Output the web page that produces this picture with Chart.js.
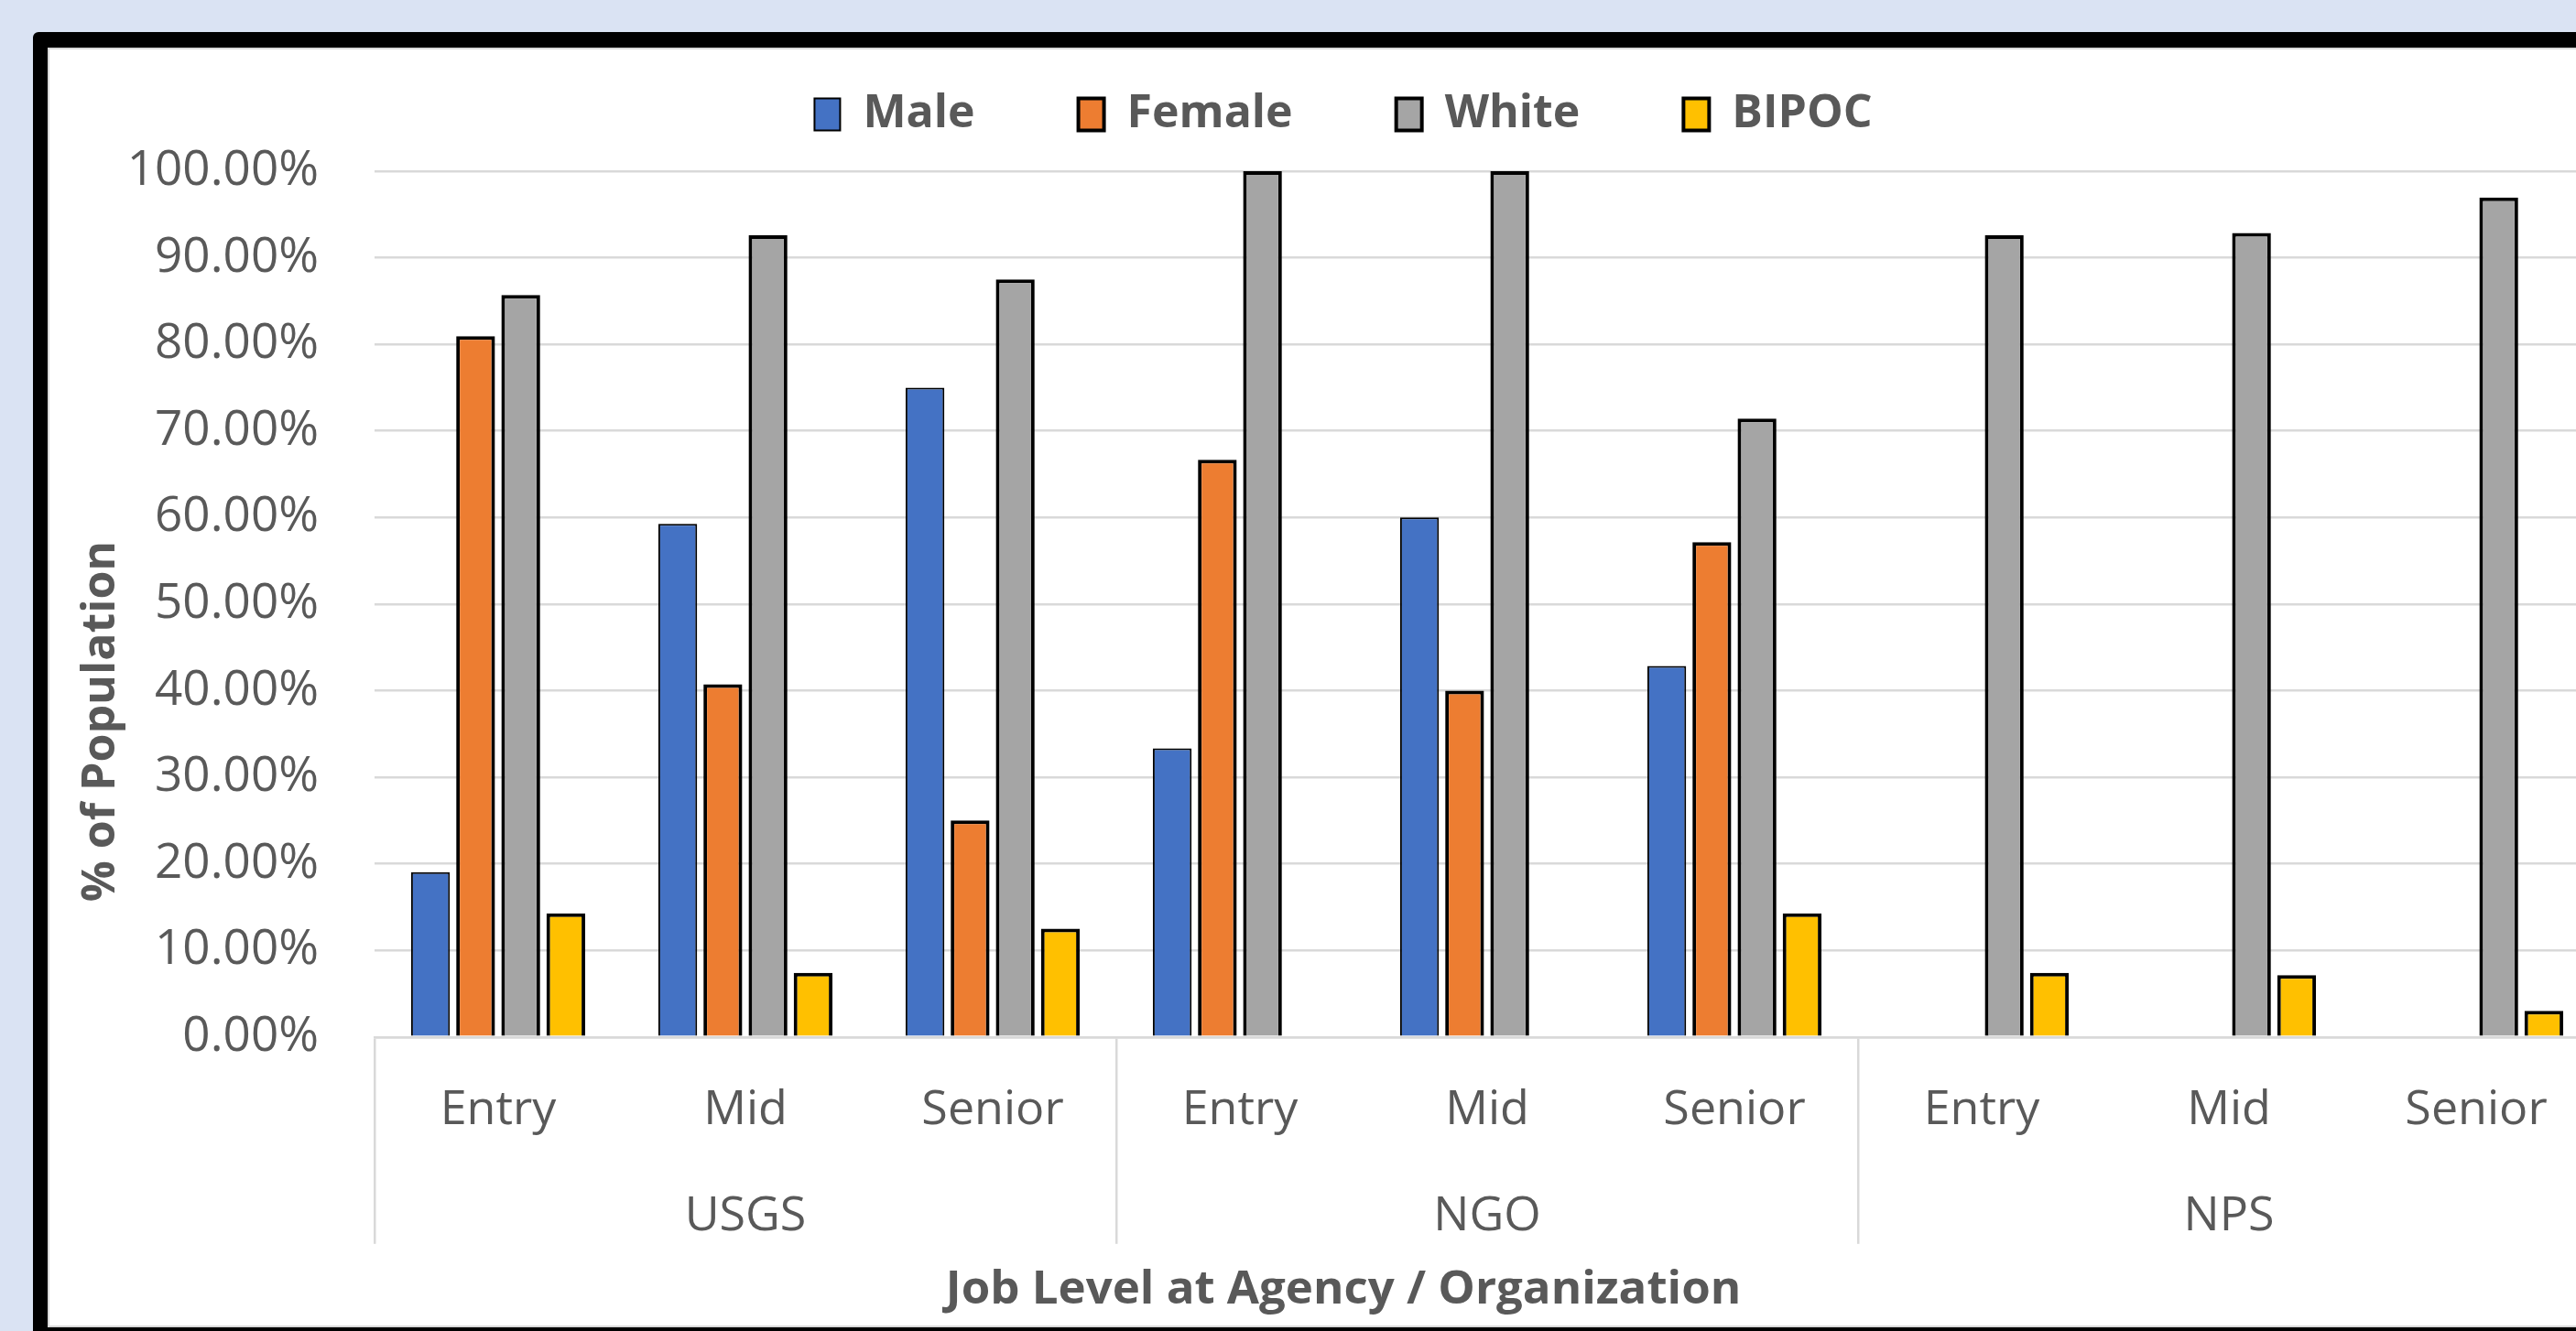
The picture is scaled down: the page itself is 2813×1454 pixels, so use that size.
<!DOCTYPE html>
<html lang="en">
<head>
  <meta charset="UTF-8">
  <title>Job Level at Agency / Organization</title>
  <script src="https://cdn.jsdelivr.net/npm/chart.js"></script>
  <style>
    html, body { margin: 0; padding: 0; width: 2813px; height: 1454px; overflow: hidden; background: #DAE3F3; }
    #frame { position: absolute; left: 36px; top: 35px; width: 2831px; height: 1398px;
             border: 16px solid #000; border-top-width: 17px; border-bottom-width: 17px;
             border-radius: 6px; background: #fff; }
    #edge { position: absolute; left: 0; top: 0; right: 0; bottom: 0; border: 2px solid #d9d9d9; pointer-events: none; }
  </style>
</head>
<body>
  <div id="frame">
    <canvas id="chart" width="2831" height="1398"></canvas>
    <div id="edge"></div>
  </div>
  <script>
    // values (% of population)
    const levels = ['Entry', 'Mid', 'Senior'];
    const groups = ['USGS', 'NGO', 'NPS'];
    const male   = [19.05, 59.26, 75.00, 33.33, 60.00, 42.86, 0, 0, 0];
    const female = [80.95, 40.74, 25.00, 66.67, 40.00, 57.14, 0, 0, 0];
    const white  = [85.71, 92.59, 87.50, 100.00, 100.00, 71.43, 92.59, 92.86, 96.97];
    const bipoc  = [14.29, 7.41, 12.50, 0, 0, 14.29, 7.41, 7.14, 3.03];

    // two-line labels: level on top, group name under the middle level
    const labels = [];
    groups.forEach(g => levels.forEach((l, i) => labels.push([l, i === 1 ? g : ''])));

    const txt = '#595959';
    const grid = '#d9d9d9';
    const font = 'Open Sans';

    const layoutFix = {
      id: 'layoutFix',
      beforeInit(chart) {
        const fit = chart.legend.fit;
        chart.legend.fit = function () {
          fit.bind(chart.legend)();
          this.height = 200;
        };
      },
      afterDraw(chart) {
        const ctx = chart.ctx;
        ctx.save();
        ctx.translate(59, 736);
        ctx.rotate(-Math.PI / 2);
        ctx.font = 'bold 50px "' + font + '"';
        ctx.fillStyle = txt;
        ctx.textAlign = 'center';
        ctx.textBaseline = 'middle';
        ctx.fillText('% of Population', 0, 0);
        ctx.restore();
      }
    };

    new Chart(document.getElementById('chart'), {
      type: 'bar',
      data: {
        labels: labels,
        datasets: [
          { label: 'Male', data: male, backgroundColor: '#4472C4', borderColor: '#000', borderWidth: 2 },
          { label: 'Female', data: female, backgroundColor: '#ED7D31', borderColor: '#000', borderWidth: 4 },
          { label: 'White', data: white, backgroundColor: '#A5A5A5', borderColor: '#000', borderWidth: 4 },
          { label: 'BIPOC', data: bipoc, backgroundColor: '#FFC000', borderColor: '#000', borderWidth: 4 }
        ]
      },
      options: {
        responsive: false,
        animation: false,
        devicePixelRatio: 1,
        categoryPercentage: 0.73,
        barPercentage: 0.86,
        layout: { padding: { top: -65, left: 43, right: 44, bottom: 10 } },
        plugins: {
          tooltip: { enabled: false },
          legend: {
            position: 'top',
            labels: {
              color: txt,
              font: { family: font, size: 50, weight: 'bold' },
              boxWidth: 28,
              boxHeight: 35,
              padding: 113
            }
          },
          title: {
            display: true,
            position: 'bottom',
            text: 'Job Level at Agency / Organization',
            color: txt,
            font: { family: font, size: 51, weight: 'bold', lineHeight: 1.2 },
            padding: 0
          }
        },
        scales: {
          x: {
            grid: {
              offset: true,
              drawOnChartArea: false,
              tickLength: 226,
              lineWidth: 2.5,
              color: c => (c.index === undefined || c.index % 3 === 0) ? grid : 'rgba(0,0,0,0)'
            },
            border: { display: true, color: grid, width: 2.5 },
            ticks: {
              color: txt,
              padding: -204,
              maxRotation: 0,
              autoSkip: false,
              font: { family: font, size: 52, lineHeight: 2.24 }
            },
            afterFit: s => { s.height = 246; }
          },
          y: {
            min: 0,
            max: 100,
            grid: { color: grid, lineWidth: 2.5, drawTicks: false },
            border: { display: false },
            ticks: {
              stepSize: 10,
              color: txt,
              padding: 61,
              font: { family: font, size: 53 },
              callback: v => v.toFixed(2) + '%'
            },
            afterFit: s => { s.width = 314; }
          }
        }
      },
      plugins: [layoutFix]
    });
  </script>
</body>
</html>
